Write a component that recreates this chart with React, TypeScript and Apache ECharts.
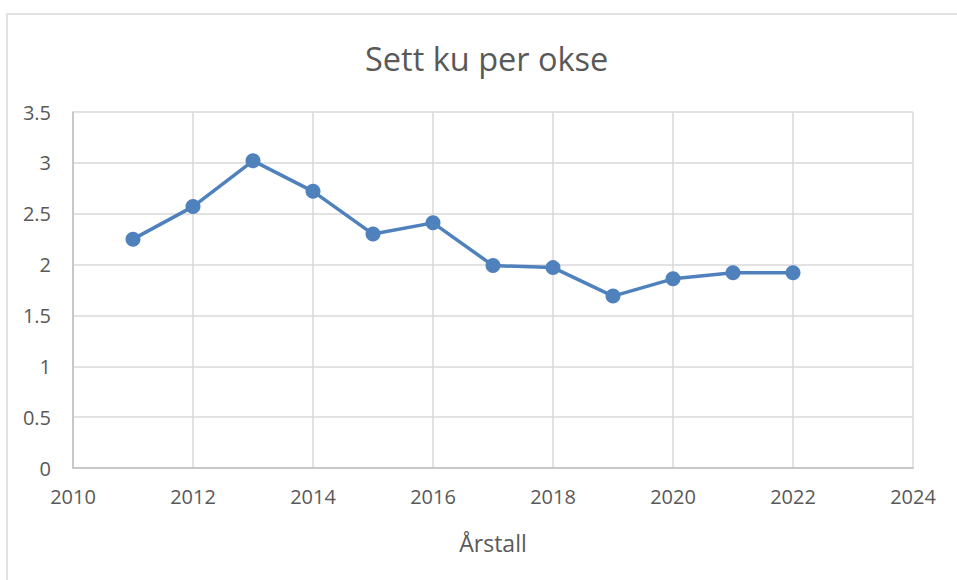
import React, { useEffect, useRef } from "react";
import * as echarts from "echarts";

const years = [2011, 2012, 2013, 2014, 2015, 2016, 2017, 2018, 2019, 2020, 2021, 2022];
const values = [2.25, 2.57, 3.02, 2.72, 2.3, 2.41, 1.99, 1.97, 1.69, 1.86, 1.92, 1.92];
const titleText = "Sett ku per okse";
const xAxisName = "Årstall";

export default function App() {
  const ref = useRef<HTMLDivElement>(null);
  useEffect(() => {
    if (!ref.current) return;
    const chart = echarts.init(ref.current, undefined, { renderer: "svg" });
    const font = "Open Sans, Noto Sans, sans-serif";
    chart.setOption({
      animation: false,
      backgroundColor: "#ffffff",
      textStyle: { fontFamily: font },
      title: {
        text: titleText,
        left: 360,
        top: 37,
        textStyle: { fontSize: 32.5, fontWeight: "normal", color: "#595959", fontFamily: font },
      },
      graphic: [
        {
          type: "rect",
          shape: { x: 7, y: 14, width: 980, height: 600 },
          style: { fill: "none", stroke: "#d9d9d9", lineWidth: 1.5 },
          silent: true,
        },
      ],
      grid: { left: 73, right: 44, top: 112, bottom: 112 },
      xAxis: {
        type: "value",
        min: 2010,
        max: 2024,
        interval: 2,
        name: xAxisName,
        nameLocation: "middle",
        nameGap: 63,
        nameTextStyle: { fontSize: 23, color: "#595959", fontFamily: font },
        axisLine: { show: true, lineStyle: { color: "#bfbfbf", width: 1.5 } },
        axisTick: { show: false },
        splitLine: { show: true, lineStyle: { color: "#d9d9d9", width: 1.5 } },
        axisLabel: {
          fontSize: 20,
          color: "#595959",
          margin: 18,
          fontFamily: font,
          formatter: (v: number) => String(v),
        },
      },
      yAxis: {
        type: "value",
        min: 0,
        max: 3.5,
        interval: 0.5,
        axisLine: { show: true, lineStyle: { color: "#bfbfbf", width: 1.5 } },
        axisTick: { show: false },
        splitLine: { show: true, lineStyle: { color: "#d9d9d9", width: 1.5 } },
        axisLabel: { fontSize: 20, color: "#595959", margin: 22, fontFamily: font },
      },
      series: [
        {
          type: "line",
          data: years.map((y, i) => [y, values[i]]),
          symbol: "circle",
          symbolSize: 15,
          lineStyle: { color: "#4f81bd", width: 3.5 },
          itemStyle: { color: "#4f81bd" },
        },
      ],
    });
    return () => chart.dispose();
  }, []);
  return (
    <div
      ref={ref}
      style={{ position: "fixed", left: 0, top: 0, width: 957, height: 580 }}
    />
  );
}
